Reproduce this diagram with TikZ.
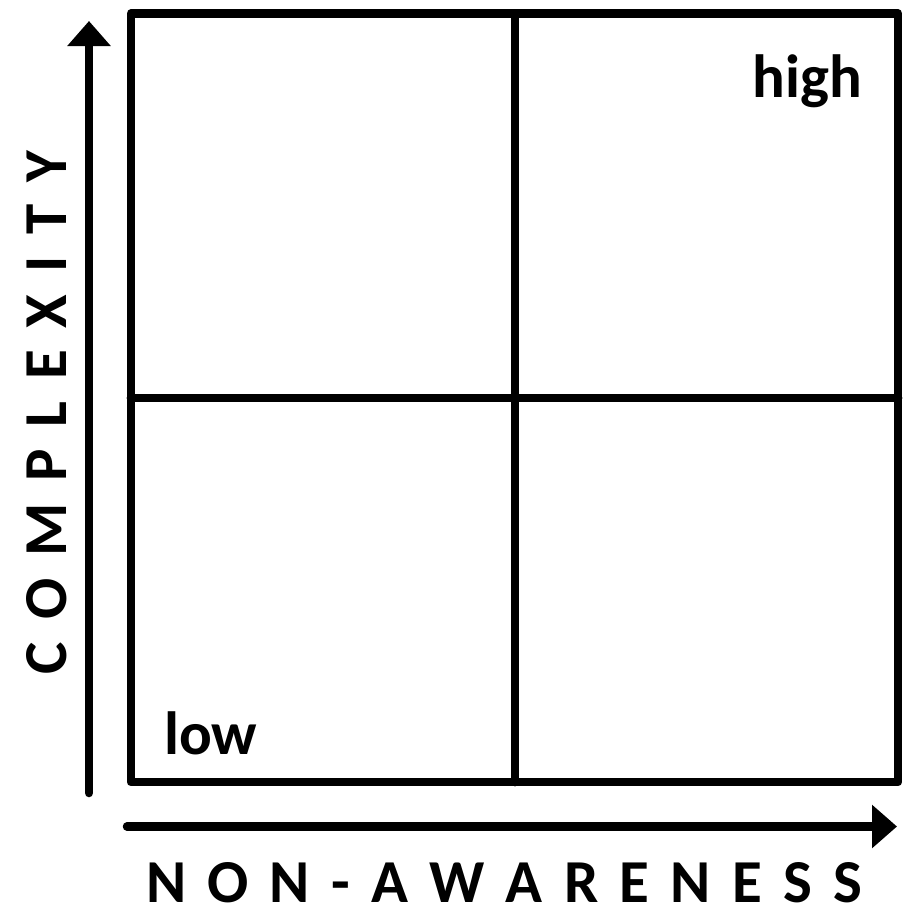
\documentclass[tikz,border=0pt]{standalone}
\usepackage{fontspec}
\setmainfont{Carlito}
\usetikzlibrary{arrows.meta}
\begin{document}
\begin{tikzpicture}[x=1pt,y=-1pt,
  gridline/.style={line width=8.8pt,line join=round,line cap=round},
  axisarrow/.style={line width=8.5pt,line cap=round,-{Triangle[length=25pt,width=42pt]}},
  lbl/.style={inner sep=0pt,outer sep=0pt,font=\bfseries\fontsize{61}{61}\selectfont}]
\useasboundingbox (0,0) rectangle (913,916);
\coordinate (tl) at (131,13.5);
\coordinate (br) at (898,782);
\coordinate (tm) at (515,13.5);
\coordinate (bm) at (515,782);
\coordinate (lm) at (131,398);
\coordinate (rm) at (898,398);
\draw[gridline] (tl) rectangle (br);
\draw[gridline] (tm) -- (bm);
\draw[gridline] (lm) -- (rm);
\coordinate (ya) at (89,793);
\coordinate (yb) at (89,21);
\coordinate (xa) at (127,826.5);
\coordinate (xb) at (897,826.5);
\draw[axisarrow] (ya) -- (yb);
\draw[axisarrow] (xa) -- (xb);
\node[lbl,anchor=base east] (high) at (862,97) {high};
\node[lbl,anchor=base west] (low) at (164,754) {low};
\node[lbl,anchor=base] (xl) at (504,902) {\makebox[716pt]{N\hfill O\hfill N\hfill -\hfill A\hfill W\hfill A\hfill R\hfill E\hfill N\hfill E\hfill S\hfill S}};
\node[lbl,anchor=base,rotate=90] (yl) at (66,412.5) {\makebox[523pt]{C\hfill O\hfill M\hfill P\hfill L\hfill E\hfill X\hfill I\hfill T\hfill Y}};
\end{tikzpicture}
\end{document}
